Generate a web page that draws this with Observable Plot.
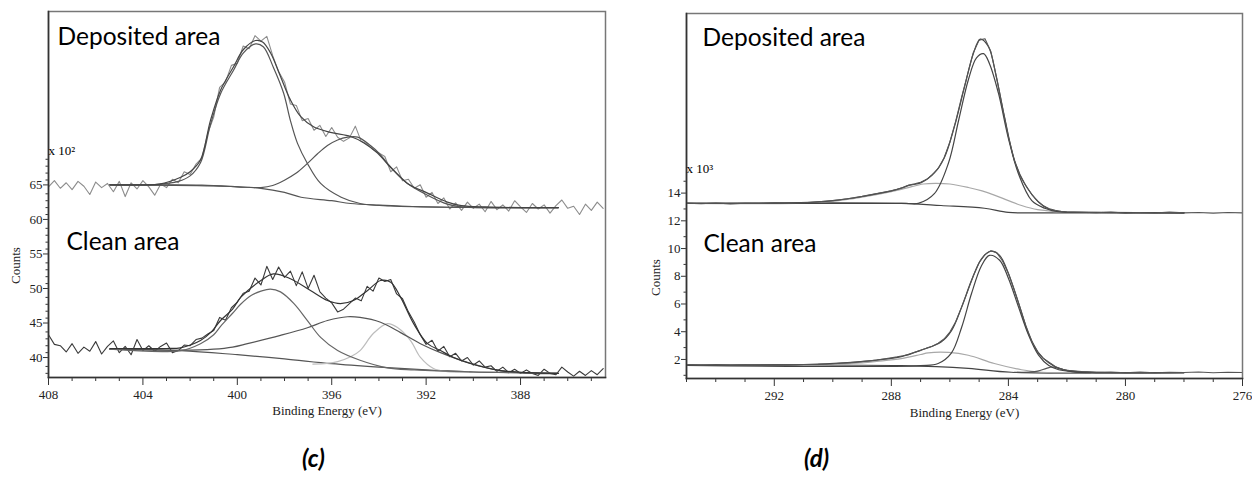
<!DOCTYPE html>
<html><head><meta charset="utf-8">
<script src="https://cdn.jsdelivr.net/npm/d3@7"></script>
<script src="https://cdn.jsdelivr.net/npm/@observablehq/plot@0.6"></script>
<style>
body{margin:0;background:#fff;width:1252px;height:481px;position:relative;overflow:hidden}
#c{position:absolute;left:0;top:0}
#d{position:absolute;left:640px;top:0}
.cap{position:absolute;font-family:Lato,"Open Sans",sans-serif;font-weight:bold;font-style:italic;font-size:24px;color:#000;line-height:1}
</style></head>
<body>
<div id="c"></div><div id="d"></div>
<div class="cap" style="left:302px;top:446px">(c)</div>
<div class="cap" style="left:804px;top:446px">(d)</div>
<script>
// ---------- Panel (c): N 1s ----------
const cXMajor = [408,404,400,396,392,388];
const cXMinor = [407,406,405,403,402,401,399,398,397,395,394,393,391,390,389,387,386,385];
const cYMajor = [40,45,50,55,60,65];
const cYMinor = [38,39,41,42,43,44,46,47,48,49,51,52,53,54,56,57,58,59,61,62,63,64,66,67,68,69];

const cRawE = [408,407.75,407.5,407.25,407,406.75,406.5,406.25,406,405.75,405.5,405.25,405,404.75,404.5,404.25,404,403.75,403.5,403.25,403,402.75,402.5,402.25,402,401.75,401.5,401.25,401,400.75,400.5,400.25,400,399.75,399.5,399.25,399,398.75,398.5,398.25,398,397.75,397.5,397.25,397,396.75,396.5,396.25,396,395.75,395.5,395.25,395,394.75,394.5,394.25,394,393.75,393.5,393.25,393,392.75,392.5,392.25,392,391.75,391.5,391.25,391,390.75,390.5,390.25,390,389.75,389.5,389.25,389,388.75,388.5,388.25,388,387.75,387.5,387.25,387,386.75,386.5,386.25,386,385.75,385.5,385.25,385,384.75,384.5];
const cDepRaw = [65.0,65.9,64.8,65.6,64.6,65.8,65.1,63.9,65.7,64.9,65.5,64.3,65.8,63.6,65.6,64.7,65.9,65.0,63.8,65.4,64.9,66.1,65.6,67.2,66.8,68.3,69.2,72.8,75.1,79.4,80.2,82.6,82.9,85.4,85.0,86.9,86.1,86.8,84.0,81.7,80.2,77.0,76.8,74.6,74.9,73.2,73.9,72.3,73.6,72.2,71.6,72.1,73.8,71.6,71.2,70.4,69.9,69.4,67.2,67.9,65.9,66.1,64.8,65.3,63.5,64.2,62.6,63.4,61.8,62.7,61.6,62.8,61.9,62.5,61.4,62.9,61.7,62.4,61.5,63.0,62.1,61.3,62.6,61.8,62.4,61.2,62.3,63.1,61.9,62.2,61.0,62.5,61.6,62.8,61.9];
const cClnRaw = [43.6,42.2,42.0,41.1,42.3,40.9,41.8,41.2,42.6,40.8,41.9,42.7,41.0,41.9,40.7,42.9,41.3,42.0,41.2,41.9,42.4,41.0,41.3,42.1,42.0,42.9,43.1,43.7,44.2,46.1,45.7,47.5,48.3,49.6,49.9,51.8,50.8,53.5,51.6,53.4,51.9,52.8,50.7,52.7,50.3,52.2,49.8,48.9,48.2,46.9,47.3,48.1,48.9,48.5,50.6,49.9,51.8,51.3,51.6,49.5,48.8,46.9,45.4,43.6,42.2,42.8,41.2,41.9,40.4,40.9,39.8,40.3,39.2,39.8,38.9,39.1,38.3,38.9,38.1,38.6,38.0,38.5,38.0,37.7,38.6,38.0,37.8,38.9,38.2,37.6,38.3,37.7,38.4,37.8,38.7];

const cDepBgE = [405.4,403,401.5,400,399,398,397.3,396,395.2,394,393,391,389,386.4];
const cDepBgV = [65.3,65.3,65.25,65.0,64.8,64.2,63.5,63.0,62.6,62.35,62.2,62.05,62.0,62.0];
const cDepEnvE = [405.4,404,403.3,402.4,402,401.56,401.14,400.71,400.16,399.74,399.23,398.93,398.59,398.17,397.75,397.32,396.77,396.05,395.2,394.65,394.06,393.5,392.79,391.94,391.1,390.5,389.5,388,386.4];
const cDepEnvV = [65.3,65.3,65.4,66.4,67.2,68.9,74.6,79.0,82.4,84.9,86.2,86.0,84.4,81.0,77.6,75.2,73.7,72.9,72.3,71.4,69.9,67.8,65.5,64.1,62.8,62.3,62.1,62.0,62.0];
const cDepP1E = [405.4,403.5,402.5,402,401.56,401.14,400.71,400.16,399.74,399.23,398.9,398.47,398.04,397.75,397.45,397.03,396.47,395.6,394.8,393.5,391,386.4];
const cDepP1V = [65.3,65.35,65.8,66.6,68.5,74.0,78.5,81.9,84.4,85.7,85.3,82.3,78.6,74.6,71.3,68.4,65.5,63.5,62.6,62.25,62.05,62.0];
const cDepP2E = [405.4,401,399.5,399,398.5,398.04,397.5,397.03,396.6,396.18,395.75,395.33,394.9,394.36,394,393.64,393.2,392.79,391.94,391.1,390.5,389,386.4];
const cDepP2V = [65.3,65.15,64.95,64.9,65.2,65.9,67.0,68.4,69.8,71.0,71.8,72.2,72.2,71.0,69.9,68.4,66.8,65.5,63.8,62.5,62.1,62.0,62.0];

const cClnBgE = [405.4,402.4,400,398,396,394,392,390,388,386.4];
const cClnBgV = [41.5,41.3,40.7,40.1,39.4,38.9,38.5,38.2,38.1,38.0];
const cClnEnvE = [405.4,403,402.41,401.56,401.1,400.71,400.2,399.86,399.0,398.47,397.75,396.9,396.18,395.63,395.08,394.48,393.93,393.5,393.08,392.53,391.94,391.39,390.84,389.8,388.85,387.7,386.4];
const cClnEnvV = [41.6,41.6,41.7,42.75,44.0,45.65,47.3,49.0,51.45,52.4,51.7,50.0,48.55,48.1,48.55,50.0,51.45,51.2,49.0,45.2,42.3,41.3,40.3,39.1,38.4,38.1,38.0];
const cClnAE = [405.4,402.4,401.56,401.0,400.71,400.2,399.86,399.4,399.0,398.6,398.17,397.6,397.03,396.47,395.75,394.8,393.64,392.5,390,386.4];
const cClnAV = [41.5,41.3,42.3,43.6,44.8,46.7,48.0,49.3,49.9,50.2,49.8,48.1,45.65,43.2,41.3,39.9,38.8,38.5,38.2,38.0];
const cClnBE = [405.4,402.4,401,400.2,399.57,398.17,397.03,396.18,395.33,394.8,393.93,393.08,392.24,391.39,390.25,388.85,387.4,386.4];
const cClnBV = [41.5,41.35,41.5,41.8,42.3,43.5,44.6,45.65,46.2,46.1,45.4,43.9,42.3,41.0,39.6,38.4,38.0,38.0];
const cClnCE = [396.8,396.2,395.75,395.2,394.8,394.23,393.64,393.2,392.66,392.24,391.69,391.1,390.2];
const cClnCV = [39.35,39.45,39.7,40.4,41.3,43.8,45.2,44.6,42.75,40.3,38.7,38.25,38.2];

// ---------- Panel (d): C 1s ----------
const dXMajor = [292,288,284,280,276];
const dXMinor = [295,294,293,291,290,289,287,286,285,283,282,281,279,278,277];
const dYMajor = [2,4,6,8,10,12,14];
const dYMinor = [1,3,5,7,9,11,13,15];

const dRawE = [295,294.5,294,293.5,293,292.5,292,291.5,291,290.5,290,289.5,289,288.5,288,287.8,287.6,287.4,287.2,287,286.8,286.6,286.4,286.2,286,285.8,285.6,285.4,285.2,285,284.8,284.6,284.4,284.2,284,283.8,283.6,283.4,283.2,283,282.8,282.6,282.4,282.2,282,281.5,281,280.5,280,279.5,279,278.5,278,277.5,277,276.5,276];
const dDepRaw = [13.42,13.38,13.43,13.37,13.41,13.39,13.44,13.40,13.45,13.52,13.61,13.74,13.91,14.12,14.31,14.42,14.55,14.72,14.81,14.93,15.12,15.47,15.92,16.68,17.82,19.33,21.05,22.66,24.27,25.18,25.28,24.36,22.45,20.31,18.22,16.52,15.38,14.66,14.04,13.56,13.21,13.02,12.91,12.83,12.79,12.76,12.73,12.78,12.70,12.75,12.71,12.77,12.72,12.74,12.70,12.75,12.72];
const dClnRaw = [1.76,1.73,1.77,1.74,1.76,1.72,1.77,1.75,1.78,1.79,1.83,1.9,1.99,2.1,2.26,2.33,2.41,2.5,2.66,2.8,2.96,3.1,3.31,3.62,4.12,4.86,5.92,7.02,8.16,9.12,9.72,9.98,9.85,9.25,8.36,7.16,5.86,4.56,3.46,2.71,2.21,1.92,1.63,1.46,1.36,1.27,1.22,1.24,1.19,1.23,1.18,1.22,1.2,1.24,1.19,1.22,1.2];

const dDepBgE = [295,287.66,286.3,284.82,284.0,283,278];
const dDepBgV = [13.4,13.4,13.25,13.05,12.75,12.72,12.72];
const dDepEnvE = [295,291.1,290,289,288,287.66,287.4,286.98,286.53,286.19,285.85,285.5,285.2,284.96,284.68,284.41,284.13,283.79,283.45,282.97,282.62,282.2,281.5,278];
const dDepEnvV = [13.4,13.45,13.6,13.9,14.3,14.5,14.7,14.9,15.6,16.7,18.9,21.8,24.2,25.25,24.7,22.5,19.6,16.5,14.85,13.5,13.0,12.8,12.75,12.72];
const dDepMainE = [295,287.5,287.08,286.53,286.05,285.7,285.37,285.09,284.85,284.65,284.34,284.0,283.65,283.2,282.76,282.3,281,278];
const dDepMainV = [13.4,13.4,13.4,14.1,16.3,19.4,22.3,23.9,24.2,23.5,21.35,18.1,15.5,13.6,13.05,12.8,12.75,12.72];
const dDepGrayE = [295,291,290,289,288,287.5,286.9,286.5,286,285.37,284.9,284.48,284,283.55,283,282.76,282.3,281,278];
const dDepGrayV = [13.4,13.42,13.55,13.85,14.25,14.5,14.8,14.85,14.8,14.55,14.3,14.0,13.6,13.25,12.95,12.9,12.78,12.74,12.72];

const dClnBgE = [295,287.66,285.37,283.9,278];
const dClnBgV = [1.72,1.7,1.5,1.22,1.2];
const dClnEnvE = [295,291,289.5,288.5,287.66,287.0,286.3,285.95,285.6,285.26,284.92,284.61,284.3,284.0,283.65,283.31,282.97,282.62,282.28,281.73,281,278];
const dClnEnvV = [1.75,1.78,1.92,2.1,2.35,2.8,3.4,4.2,5.9,7.85,9.4,9.95,9.65,8.35,6.2,4.0,2.6,1.9,1.5,1.28,1.22,1.2];
const dClnMainE = [295,287,286.4,285.95,285.6,285.26,284.92,284.65,284.3,284.0,283.65,283.31,282.97,282.62,282.28,281.73,281,278];
const dClnMainV = [1.72,1.7,1.85,2.6,4.45,6.9,8.9,9.65,9.3,8.0,5.9,3.9,2.45,1.7,1.4,1.25,1.2,1.2];
const dClnGrayE = [295,290,289,288.5,287.66,287,286.74,286.05,285.37,284.48,283.55,282.86,282,278];
const dClnGrayV = [1.72,1.78,1.9,2.0,2.2,2.5,2.62,2.65,2.45,1.85,1.4,1.22,1.2,1.2];
const dClnSmallE = [283.8,283.3,283.0,282.7,282.5,282.25,282.0,281.7,281.2];
const dClnSmallV = [1.22,1.24,1.3,1.5,1.6,1.5,1.33,1.22,1.2];

const zip = (E, V) => E.map((e, i) => ({e, v: V[i]}));
const serif = "'Liberation Serif','Times New Roman',serif";
const sans = "Lato,'Open Sans',sans-serif";

function smooth(E, V, stroke, w = 1.2) {
  return Plot.line(zip(E, V), {x: "e", y: "v", stroke, strokeWidth: w, curve: "catmull-rom"});
}
function raw(E, V, stroke, w = 1.1) {
  return Plot.line(zip(E, V), {x: "e", y: "v", stroke, strokeWidth: w});
}
function axes(xMaj, xMin, yMaj, yMin) {
  return [
    Plot.axisX({ticks: xMaj, anchor: "bottom", tickSize: 8, tickPadding: 4, fontSize: 13, fill: "#222", stroke: "#333", label: null}),
    Plot.axisX({ticks: xMin, anchor: "bottom", tickSize: 4, tickFormat: () => "", stroke: "#333", label: null}),
    Plot.axisY({ticks: yMaj, anchor: "left", tickSize: 5, tickPadding: 1, dy: -2, fontSize: 13, fill: "#222", stroke: "#333", label: null}),
    Plot.axisY({ticks: yMin, anchor: "left", tickSize: 2.5, tickFormat: () => "", stroke: "#333", label: null})
  ];
}
function note(txt, frameAnchor, dx, dy, size, font, extra = {}) {
  return Plot.text([txt], {text: d => d, frameAnchor, dx, dy, textAnchor: "start",
    lineAnchor: "middle", fontSize: size, fontFamily: font, fill: "#000", ...extra});
}
function axisLabels(countsDx, countsDy, beDy) {
  return [
    note("Counts", "top-left", countsDx, countsDy, 13, serif, {rotate: -90, textAnchor: "middle", fill: "#222"}),
    note("Binding Energy (eV)", "bottom", 0, beDy, 13, serif, {textAnchor: "middle", fill: "#222"})
  ];
}
function frames() {
  return [
    Plot.frame({stroke: "#777", strokeWidth: 1.5}),
    Plot.frame({anchor: "left", stroke: "#333", strokeWidth: 1.6}),
    Plot.frame({anchor: "bottom", stroke: "#333", strokeWidth: 1.6})
  ];
}

const plotC = Plot.plot({
  width: 630, height: 430,
  marginTop: 11, marginRight: 25, marginBottom: 53, marginLeft: 48,
  style: {fontFamily: serif, fontSize: "13px", background: "#fff", color: "#222"},
  x: {domain: [408, 384.4]},
  y: {domain: [37.4, 90.4]},
  marks: [
    raw(cRawE, cDepRaw, "#8c8c8c"),
    raw(cRawE, cClnRaw, "#3a3a3a"),
    smooth(cDepBgE, cDepBgV, "#555"),
    smooth(cDepP1E, cDepP1V, "#555"),
    smooth(cDepP2E, cDepP2V, "#555"),
    smooth(cDepEnvE, cDepEnvV, "#444"),
    smooth(cClnBgE, cClnBgV, "#555"),
    smooth(cClnCE, cClnCV, "#bdbdbd"),
    smooth(cClnBE, cClnBV, "#555"),
    smooth(cClnAE, cClnAV, "#666"),
    smooth(cClnEnvE, cClnEnvV, "#333"),
    ...axes(cXMajor, cXMinor, cYMajor, cYMinor),
    ...frames(),
    ...axisLabels(-33, 254, 33),
    note("x 10²", "top-left", 0, 139, 13, serif),
    note("Deposited area", "top-left", 9, 26, 24.5, sans),
    note("Clean area", "top-left", 18, 231, 24.5, sans)
  ]
});
document.getElementById("c").append(plotC);

const plotD = Plot.plot({
  width: 612, height: 430,
  marginTop: 13, marginRight: 10, marginBottom: 52, marginLeft: 46,
  style: {fontFamily: serif, fontSize: "13px", background: "#fff", color: "#222"},
  x: {domain: [295, 276]},
  y: {domain: [0.77, 27.1]},
  marks: [
    smooth(dDepBgE, dDepBgV, "#444"),
    smooth(dDepGrayE, dDepGrayV, "#a8a8a8"),
    smooth(dDepMainE, dDepMainV, "#444"),
    smooth(dDepEnvE, dDepEnvV, "#444"),
    raw(dRawE, dDepRaw, "#555"),
    smooth(dClnBgE, dClnBgV, "#444"),
    smooth(dClnGrayE, dClnGrayV, "#a8a8a8"),
    smooth(dClnSmallE, dClnSmallV, "#555"),
    smooth(dClnMainE, dClnMainV, "#444"),
    smooth(dClnEnvE, dClnEnvV, "#444"),
    raw(dRawE, dClnRaw, "#555"),
    ...axes(dXMajor, dXMinor, dYMajor, dYMinor),
    ...frames(),
    ...axisLabels(-31, 264, 34),
    note("x 10³", "top-left", 0, 155, 13, serif),
    note("Deposited area", "top-left", 16, 25, 24.5, sans),
    note("Clean area", "top-left", 17, 231, 24.5, sans)
  ]
});
document.getElementById("d").append(plotD);
</script>
</body></html>
